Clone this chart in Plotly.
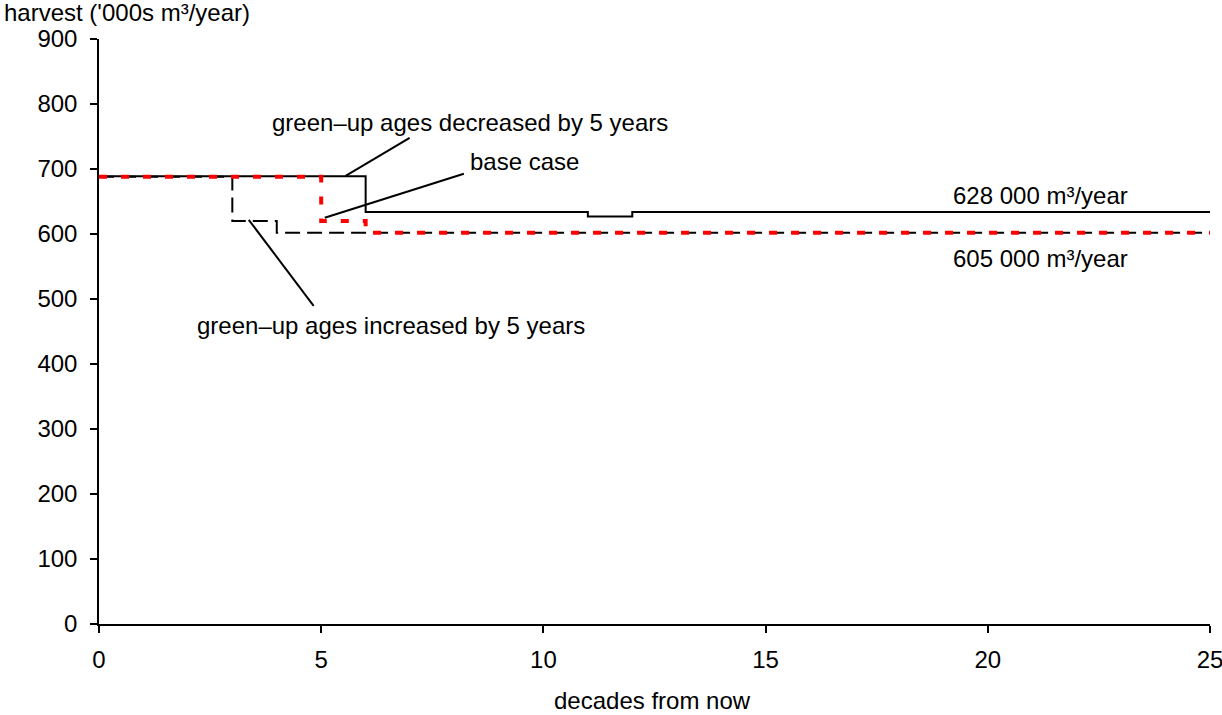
import plotly.graph_objects as go

# decades from now (step boundaries)
decades = list(range(0, 26))

# harvest levels ('000s m3/year) held for each decade
base_case = [688] * 5 + [620] + [602] * 20
greenup_decreased = [689] * 6 + [634] * 5 + [627] + [634] * 14
greenup_increased = [688] * 3 + [620] + [602] * 22

x_ticks = [0, 5, 10, 15, 20, 25]
y_ticks = [0, 100, 200, 300, 400, 500, 600, 700, 800, 900]

FONT = "Liberation Sans, Arial, sans-serif"

fig = go.Figure()
fig.add_trace(go.Scatter(x=decades, y=greenup_decreased, mode="lines", line_shape="hv",
                         line=dict(color="black", width=2), name="green-up ages decreased by 5 years"))
fig.add_trace(go.Scatter(x=decades, y=greenup_increased, mode="lines", line_shape="hv",
                         line=dict(color="black", width=2, dash="15px,7px"), name="green-up ages increased by 5 years"))
fig.add_trace(go.Scatter(x=decades, y=base_case, mode="lines", line_shape="hv",
                         line=dict(color="#ff0000", width=4, dash="8px,14px"), name="base case"))

# leader lines for the labels
leaders = [
    ((6.99, 748), (5.55, 689.5)),
    ((8.21, 692.6), (5.08, 624.9)),
    ((3.37, 621.8), (4.83, 489.5)),
]
for (x0, y0), (x1, y1) in leaders:
    fig.add_shape(type="line", x0=x0, y0=y0, x1=x1, y1=y1, xref="x", yref="y",
                  line=dict(color="black", width=2))

labels = [
    ("green\u2013up ages decreased by 5 years", 8.34, 771),
    ("base case", 9.58, 711),
    ("green\u2013up ages increased by 5 years", 6.57, 460),
    ("628 000 m\u00b3/year", 21.19, 658.8),
    ("605 000 m\u00b3/year", 21.19, 561.8),
]
for text, x, y in labels:
    fig.add_annotation(text=text, x=x, y=y, xref="x", yref="y", showarrow=False,
                       xanchor="center", yanchor="middle", font=dict(size=24, color="black", family=FONT))

fig.add_annotation(text="harvest ('000s m\u00b3/year)", xref="paper", yref="paper",
                   x=-0.0876, y=1.046, xanchor="left", yanchor="middle", showarrow=False,
                   font=dict(size=24, color="black", family=FONT))
fig.add_annotation(text="decades from now", xref="paper", yref="paper",
                   x=0.498, y=-0.1316, xanchor="center", yanchor="middle", showarrow=False,
                   borderpad=0,
                   font=dict(size=24, color="black", family=FONT))

fig.update_layout(
    width=1222, height=715,
    margin=dict(l=99, r=12, t=39, b=91),
    paper_bgcolor="white", plot_bgcolor="white",
    showlegend=False,
    font=dict(family=FONT, size=24, color="black"),
    xaxis=dict(range=[0, 25], tickvals=x_ticks, showgrid=False, zeroline=False,
               showline=True, linecolor="black", linewidth=1.5, ticks="outside",
               ticklen=7, tickcolor="black", tickwidth=1.5, tickfont=dict(size=24),
               ticklabelstandoff=6, ticklabeloverflow="allow", automargin=False),
    yaxis=dict(range=[0, 900], tickvals=y_ticks, showgrid=False, zeroline=False,
               showline=True, linecolor="black", linewidth=1.5, ticks="outside",
               ticklen=7, tickcolor="black", tickwidth=1.5, tickfont=dict(size=24),
               ticklabelstandoff=8, automargin=False),
    hovermode=False,
)

fig.write_html("out.html", config={"displayModeBar": False},
               post_script="document.body.style.margin='0px';document.body.style.overflow='hidden';")
